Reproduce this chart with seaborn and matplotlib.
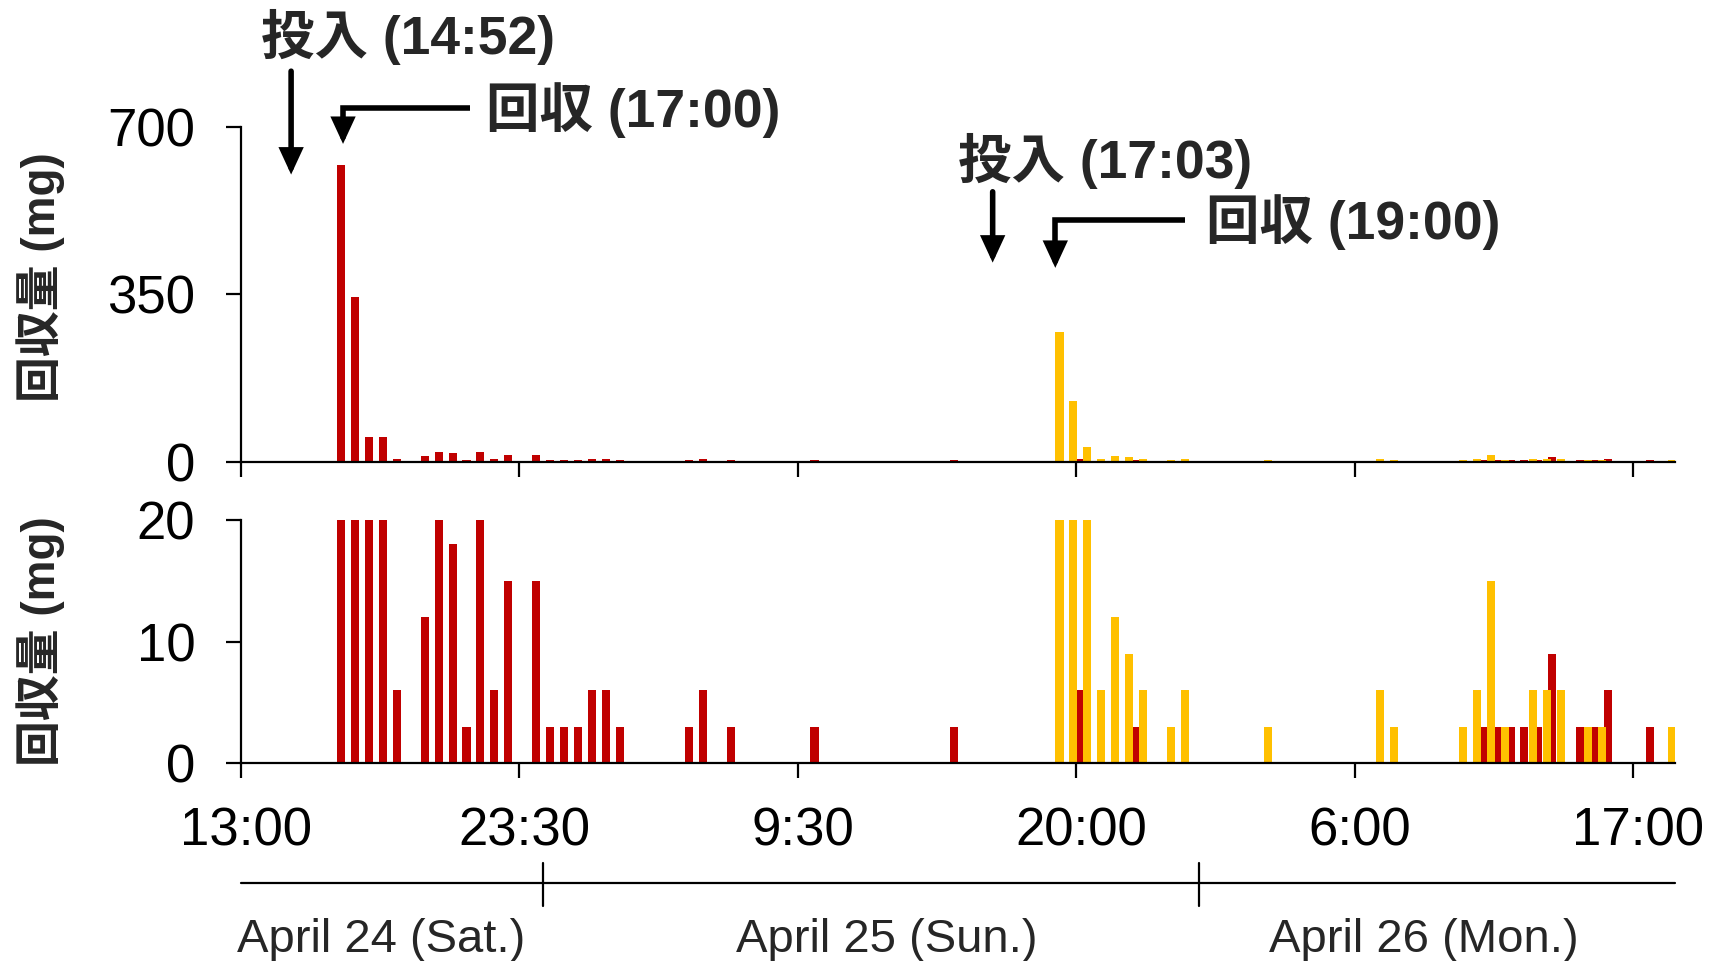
import numpy as np
import pandas as pd
import matplotlib
matplotlib.use("Agg")
import matplotlib.pyplot as plt
import seaborn as sns
from matplotlib.transforms import blended_transform_factory, ScaledTranslation

# ---------------- data ----------------
red_slots = [7, 8, 9, 10, 11, 13, 14, 15, 16, 17, 18, 19, 21, 22, 23, 24, 25, 26, 27,
             32, 33, 35, 41, 51, 60, 64, 89, 90, 91, 92, 93, 94, 96, 97, 98, 101]
red_values = [620, 344, 51, 51, 6, 12, 21, 18, 3, 21, 6, 15, 15, 3, 3, 3, 6, 6, 3,
              3, 6, 3, 3, 3, 6, 3, 3, 3, 3, 3, 3, 9, 3, 3, 6, 3]
yellow_slots = [59, 60, 61, 62, 63, 64, 65, 67, 68, 74, 82, 83, 88, 89, 90, 91, 93, 94,
                95, 97, 98, 103]
yellow_values = [271, 127, 30, 6, 12, 9, 6, 3, 6, 3, 6, 3, 3, 6, 15, 3, 6, 6,
                 6, 3, 3, 3]

tick_slots = [0, 20, 40, 60, 80, 100]
tick_labels = ["13:00", "23:30", "9:30", "20:00", "6:00", "17:00"]
top_yticks = [0, 350, 700]
bottom_yticks = [0, 10, 20]

date_labels = ["April 24 (Sat.)", "April 25 (Sun.)", "April 26 (Mon.)"]
date_label_pos = [10.1, 46.4, 85.0]
date_breaks = [21.7, 68.85]

ylabel_text = "回収量 (mg)"

# annotation texts (x in slot units, y in upper-panel units)
ann_texts = ["投入 (14:52)", "回収 (17:00)", "投入 (17:03)", "回収 (19:00)"]
ann_text_x = [1.45, 17.6, 51.5, 69.3]
ann_text_y = [887, 735, 628, 501]

RED = "#C00000"
YELLOW = "#FFC000"

# ---------------- style ----------------
sns.set_theme(style="ticks")
plt.rcParams["font.family"] = ["Liberation Sans", "Noto Sans CJK JP", "DejaVu Sans"]
plt.rcParams["axes.edgecolor"] = "black"
plt.rcParams["xtick.color"] = "black"
plt.rcParams["ytick.color"] = "black"

W, H = 1723, 961
fig = plt.figure(figsize=(W / 100, H / 100), dpi=100)
ax_top = fig.add_axes([241 / W, (H - 461.7) / H, 1434 / W, 335 / H])
ax_bot = fig.add_axes([241 / W, (H - 763) / H, 1434 / W, 243 / H])

df_red = pd.DataFrame({"x": np.array(red_slots) + 0.2, "y": red_values})
df_yel = pd.DataFrame({"x": np.array(yellow_slots) - 0.2, "y": yellow_values})

XMAX = 103.02
for ax in (ax_top, ax_bot):
    sns.barplot(data=df_red, x="x", y="y", native_scale=True, color=RED,
                saturation=1, width=0.58, errorbar=None, linewidth=0, ax=ax)
    sns.barplot(data=df_yel, x="x", y="y", native_scale=True, color=YELLOW,
                saturation=1, width=0.58, errorbar=None, linewidth=0, ax=ax)
    ax.set_xlabel("")
    ax.set_ylabel("")
    ax.set_xlim(0, XMAX)
    ax.set_xticks(tick_slots)
    for s in ("top", "right"):
        ax.spines[s].set_visible(False)
    for s in ("left", "bottom"):
        ax.spines[s].set_linewidth(1.6)
        ax.spines[s].set_color("black")
    ax.tick_params(axis="both", direction="out", length=11, width=1.6,
                   colors="black", labelsize=38)
    ax.tick_params(axis="y", pad=22)
    ax.tick_params(axis="x", pad=20)

ax_top.set_ylim(0, 700)
ax_top.set_yticks(top_yticks)
ax_top.set_xticklabels([])

ax_bot.set_ylim(0, 20)
ax_bot.set_yticks(bottom_yticks)
ax_bot.set_xticklabels(tick_labels)
shift = ScaledTranslation(5 / 100, 0, fig.dpi_scale_trans)
for lab in ax_bot.get_xticklabels():
    lab.set_transform(lab.get_transform() + shift)

# y labels
fig.text(41 / W, (H - 277.5) / H, ylabel_text, rotation=90, ha="center", va="center",
         fontsize=33, fontweight="bold")
fig.text(41 / W, (H - 641) / H, ylabel_text, rotation=90, ha="center", va="center",
         fontsize=33, fontweight="bold")

# date row
trans = blended_transform_factory(ax_bot.transData, ax_bot.transAxes)
ax_bot.plot([0, XMAX], [-0.4918, -0.4918], transform=trans, clip_on=False,
            color="black", lw=1.6)
for b in date_breaks:
    ax_bot.plot([b, b], [-0.4115, -0.5885], transform=trans, clip_on=False,
                color="black", lw=1.6)
for lab, pos in zip(date_labels, date_label_pos):
    ax_bot.text(pos, -0.728, lab, transform=trans, ha="center", va="center",
                fontsize=34)

# annotations
for t, x, y in zip(ann_texts, ann_text_x, ann_text_y):
    ax_top.text(x, y, t, ha="left", va="center", fontsize=38.5, fontweight="bold",
                clip_on=False)

arrow_kw = dict(arrowstyle="-|>,head_length=0.65,head_width=0.3", lw=4,
                color="black", mutation_scale=20, shrinkA=0, shrinkB=0,
                joinstyle="miter")
# straight arrows (投入)
for x, y0, y1 in [(3.6, 816, 600), (54.0, 564, 416)]:
    ax_top.annotate("", xy=(x, y1), xytext=(x, y0), arrowprops=arrow_kw,
                    annotation_clip=False)
# elbow arrows (回収)
for xs, xt, yh, yt in [(16.45, 7.33, 739, 664), (67.8, 58.5, 505, 405)]:
    ax_top.plot([xs, xt, xt], [yh, yh, yt + 30], color="black", lw=4,
                clip_on=False, solid_joinstyle="miter", solid_capstyle="butt")
    ax_top.annotate("", xy=(xt, yt), xytext=(xt, yt + 40), arrowprops=arrow_kw,
                    annotation_clip=False)

fig.savefig("out.png", dpi=100)
